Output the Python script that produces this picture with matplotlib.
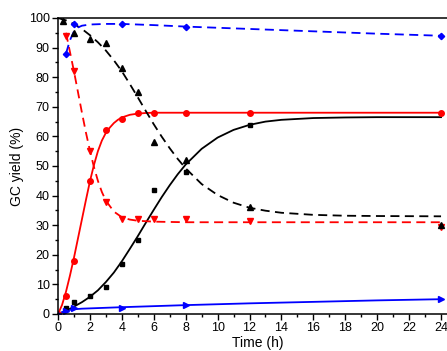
import matplotlib.pyplot as plt
import numpy as np

plt.rcParams['font.family'] = ['Liberation Sans', 'DejaVu Sans']

# measured points (h, %)
t_red = [0, 0.5, 1, 2, 3, 4, 5, 6, 8, 12, 24]
y_red = [0, 6, 18, 45, 62, 66, 68, 68, 68, 68, 68]

t_red_d = [0.5, 1, 2, 3, 4, 5, 6, 8, 12, 24]
y_red_d = [94, 82, 55, 38, 32, 32, 32, 32, 31.5, 29.5]

t_blk = [0.5, 1, 2, 3, 4, 5, 6, 8, 12]
y_blk = [2, 4, 6, 9, 17, 25, 42, 48, 64]

t_blk_d = [0.3, 1, 2, 3, 4, 5, 6, 8, 12, 24]
y_blk_d = [99, 95, 93, 91.5, 83, 75, 58, 52, 36, 30]

t_blu_d = [0.5, 1, 4, 8, 24]
y_blu_d = [88, 98, 98, 97, 94]

t_blu = [0, 0.5, 1, 4, 8, 24]
y_blu = [0, 1, 2, 2, 3, 5]

# fitted curves
tf_r = [0, 0.25, 0.5, 0.75, 1, 1.25, 1.5, 1.75, 2, 2.25, 2.5, 2.75, 3, 3.25,
        3.5, 3.75, 4, 4.5, 5, 5.5, 6, 8, 12, 24]
fit_red = [0, 3, 7.5, 13, 19, 25.5, 32, 38.5, 44.8, 50.3, 55, 58.6, 61.2, 63,
           64.5, 65.6, 66.4, 67.3, 67.7, 67.9, 68, 68, 68, 68]

tf_k = [0, 0.5, 1, 1.5, 2, 2.5, 3, 3.5, 4, 4.5, 5, 5.5, 6, 6.5, 7, 7.5, 8,
        9, 10, 11, 12, 13, 14, 16, 18, 20, 24]
fit_blk = [0, 1, 2.5, 4, 5.8, 8, 10.8, 14, 17.8, 22, 26.3, 30.8, 35.2, 39.5,
           43.5, 47.2, 50.5, 55.8, 59.6, 62.2, 63.9, 65, 65.6, 66.2, 66.4, 66.5, 66.5]
fit_blk_d = [100, 99.2, 98, 96.3, 94.2, 91.8, 89, 85.7, 82, 77.7, 73.2, 68.6,
             64.1, 59.9, 56, 52.4, 49.2, 43.9, 40.2, 37.6, 35.9, 34.9, 34.2,
             33.5, 33.2, 33.1, 33]

tf_rd = [0.5, 0.75, 1, 1.25, 1.5, 1.75, 2, 2.25, 2.5, 2.75, 3, 3.5, 4, 4.5,
         5, 6, 8, 12, 24]
fit_red_d = [95, 88.5, 82, 75, 68, 61.3, 55.2, 49.7, 45, 41.2, 38.3, 34.6,
             32.7, 31.9, 31.5, 31.2, 31, 31, 31]

tf_bd = [0.5, 0.75, 1, 1.25, 1.5, 2, 3, 4, 6, 8, 12, 16, 20, 24]
fit_blu_d = [88, 92.5, 95.5, 96.8, 97.4, 97.8, 98, 98, 97.6, 97.1, 96.3,
             95.5, 94.7, 94]

tf_b = [0, 0.25, 0.5, 0.75, 1, 1.5, 2, 4, 8, 12, 16, 20, 24]
fit_blu = [0, 0.6, 1.1, 1.4, 1.6, 1.8, 1.9, 2.3, 3, 3.6, 4.1, 4.6, 5]

fig = plt.figure(figsize=(4.47, 3.51), dpi=100)
ax = fig.add_axes([58 / 447, 37 / 351, 25 * 15.96 / 447, 296 / 351])

lw = 1.3
dash = (0, (5, 3))
ax.plot(tf_r, fit_red, color='red', lw=lw)
ax.plot(tf_k, fit_blk, color='black', lw=lw)
ax.plot(tf_b, fit_blu, color='blue', lw=lw)
ax.plot(tf_rd, fit_red_d, color='red', lw=lw, linestyle=dash)
ax.plot(tf_k, fit_blk_d, color='black', lw=lw, linestyle=dash)
ax.plot(tf_bd, fit_blu_d, color='blue', lw=lw, linestyle=dash)

ms = 4
ax.plot(t_red, y_red, 'o', color='red', ms=ms)
ax.plot(t_red_d, y_red_d, 'v', color='red', ms=ms)
ax.plot(t_blk, y_blk, 's', color='black', ms=ms - 0.5)
ax.plot(t_blk_d, y_blk_d, '^', color='black', ms=ms)
ax.plot(t_blu_d, y_blu_d, 'D', color='blue', ms=ms - 0.8)
ax.plot(t_blu, y_blu, '>', color='blue', ms=ms)

ax.set_xlim(0, 25)
ax.set_ylim(0, 100)
ax.set_xticks(np.arange(0, 25, 2))
ax.set_xticks(np.arange(1, 25, 2), minor=True)
ax.set_yticks(np.arange(0, 101, 10))
ax.set_yticks(np.arange(5, 100, 10), minor=True)
ax.tick_params(which='major', direction='out', length=4, width=1, labelsize=9, pad=2)
ax.tick_params(which='minor', direction='out', length=2.5, width=1)
ax.spines['right'].set_visible(False)
for s in ['left', 'bottom', 'top']:
    ax.spines[s].set_linewidth(1.1)
ax.set_xlabel('Time (h)', fontsize=10, labelpad=1)
ax.set_ylabel('GC yield (%)', fontsize=10, labelpad=3)

fig.savefig('out.png', dpi=100)
